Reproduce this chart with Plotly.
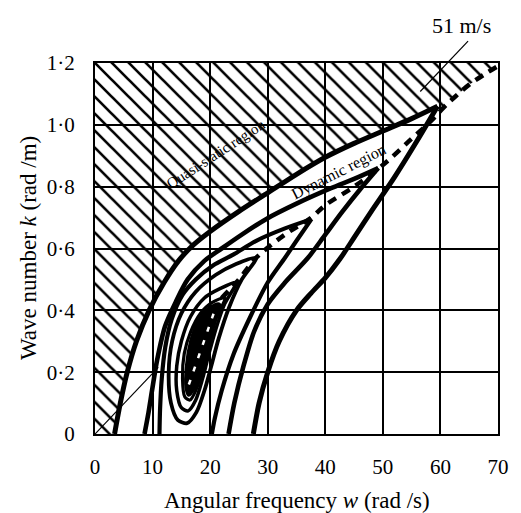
import plotly.graph_objects as go

# ---------------- data ----------------
x_ticks = [0, 10, 20, 30, 40, 50, 60, 70]
y_tickvals = [0, 0.2, 0.4, 0.6, 0.8, 1.0, 1.2]
y_ticktext = ["0", "0·2", "0·4", "0·6", "0·8", "1·0", "1·2"]

wave_speed = 51  # m/s, k = w / c

# outermost contour (open at k = 0)
c1_upper_w = [3.4, 4.4, 5.6, 7.2, 9.4, 12.0, 14.5, 17.0, 20.0, 25.0, 30.0, 35.0, 40.0, 45.0, 50.0, 55.0, 59.5]
c1_upper_k = [0.0, 0.1, 0.2, 0.3, 0.4, 0.49, 0.56, 0.61, 0.655, 0.72, 0.78, 0.84, 0.895, 0.94, 0.98, 1.02, 1.06]
c1_lower_w = [59.5, 56.0, 52.0, 48.0, 45.0, 42.5, 40.0, 37.5, 35.0, 32.0, 30.0, 28.5, 27.5]
c1_lower_k = [1.06, 0.95, 0.83, 0.72, 0.635, 0.565, 0.505, 0.455, 0.4, 0.3, 0.2, 0.1, 0.0]

# second contour
c2_upper_w = [8.6, 9.3, 9.9, 10.8, 12.2, 14.1, 16.1, 19.0, 22.0, 25.5, 29.7, 35.0, 41.0, 45.0, 49.2]
c2_upper_k = [0.0, 0.07, 0.14, 0.24, 0.35, 0.43, 0.5, 0.56, 0.6, 0.645, 0.695, 0.745, 0.795, 0.825, 0.86]
c2_lower_w = [49.2, 46.0, 43.0, 40.0, 37.0, 33.0, 30.0, 27.6, 25.8, 24.2, 23.2]
c2_lower_k = [0.86, 0.79, 0.72, 0.645, 0.57, 0.49, 0.42, 0.33, 0.22, 0.1, 0.0]

# third contour
c3_upper_w = [11.2, 11.3, 11.6, 12.2, 13.3, 15.2, 17.5, 20.5, 24.0, 28.0, 33.0, 37.6]
c3_upper_k = [0.0, 0.08, 0.18, 0.28, 0.37, 0.45, 0.5, 0.545, 0.58, 0.625, 0.665, 0.695]
c3_lower_w = [37.6, 35.0, 33.0, 30.0, 27.0, 24.0, 22.0, 20.8, 20.3]
c3_lower_k = [0.695, 0.625, 0.57, 0.49, 0.38, 0.255, 0.14, 0.05, 0.0]

# closed inner contours
c4_w = [28.0, 25.5, 23.3, 21.5, 20.2, 19.0, 17.6, 16.0, 14.4, 13.2, 12.8, 13.4, 15.0, 17.5, 21.0, 24.5, 28.0]
c4_k = [0.57, 0.5, 0.41, 0.31, 0.22, 0.14, 0.07, 0.035, 0.045, 0.1, 0.2, 0.3, 0.39, 0.46, 0.515, 0.55, 0.57]
c5_w = [24.5, 22.5, 21.0, 19.8, 18.7, 17.5, 16.2, 15.0, 14.2, 14.2, 15.0, 16.6, 19.0, 21.7, 24.5]
c5_k = [0.49, 0.42, 0.34, 0.26, 0.18, 0.11, 0.075, 0.085, 0.14, 0.22, 0.3, 0.38, 0.44, 0.47, 0.49]
c6_w = [22.5, 21.0, 19.8, 18.7, 17.6, 16.5, 15.6, 15.2, 15.5, 16.6, 18.3, 20.3, 22.5]
c6_k = [0.44, 0.37, 0.29, 0.21, 0.145, 0.11, 0.12, 0.18, 0.26, 0.33, 0.39, 0.425, 0.44]
core_w = [21.6, 20.4, 19.3, 18.3, 17.3, 16.3, 15.8, 15.9, 16.6, 17.9, 19.7, 21.6]
core_k = [0.42, 0.355, 0.28, 0.205, 0.15, 0.125, 0.15, 0.225, 0.3, 0.365, 0.405, 0.42]

# dashed ridge line
ridge_w = [22.0, 25.0, 28.0, 33.0, 37.6, 40.0, 45.0, 50.0, 55.0, 58.5, 60.5, 62.5, 65.0, 67.8, 70.0]
ridge_k = [0.44, 0.5, 0.57, 0.645, 0.7, 0.74, 0.8, 0.87, 0.955, 1.015, 1.055, 1.09, 1.13, 1.165, 1.19]
core_ridge_w = [16.3, 20.8]
core_ridge_k = [0.16, 0.4]

X_RANGE = [0, 70]
Y_RANGE = [0, 1.2]

# ---------------- figure ----------------
FONT = "Liberation Serif"
fig = go.Figure()

# hatched quasi-static region (above outer contour and ridge extension)
tail = [i for i, w in enumerate(ridge_w) if w > c1_upper_w[-1]]
hatch_w = [X_RANGE[0] - 1, c1_upper_w[0]] + c1_upper_w + [ridge_w[i] for i in tail] + [X_RANGE[1] + 1, X_RANGE[1] + 1, X_RANGE[0] - 1]
hatch_k = [Y_RANGE[0], c1_upper_k[0]] + c1_upper_k + [ridge_k[i] for i in tail] + [ridge_k[-1], Y_RANGE[1] + 0.1, Y_RANGE[1] + 0.1]
fig.add_trace(go.Scatter(
    x=hatch_w, y=hatch_k, mode="lines", fill="toself",
    fillcolor="black",
    fillpattern=dict(shape="\\", fgcolor="black", bgcolor="rgba(255,255,255,0)", fgopacity=1,
                     fillmode="replace", size=12, solidity=0.22),
    line=dict(width=0, color="rgba(0,0,0,0)"), hoverinfo="skip", showlegend=False))

# thin 51 m/s line near origin
w_end = 11.0
fig.add_trace(go.Scatter(x=[0, w_end], y=[0, w_end / wave_speed], mode="lines",
                         line=dict(color="black", width=1.2), showlegend=False, hoverinfo="skip"))

def curve(w, k, width=4.2):
    fig.add_trace(go.Scatter(x=w, y=k, mode="lines",
                             line=dict(color="black", width=width, shape="spline", smoothing=0.8),
                             showlegend=False, hoverinfo="skip"))

curve(c1_upper_w, c1_upper_k, 5)
curve(c1_lower_w, c1_lower_k, 5)
curve(c2_upper_w, c2_upper_k, 4.6)
curve(c2_lower_w, c2_lower_k, 4.6)
curve(c3_upper_w, c3_upper_k, 4.2)
curve(c3_lower_w, c3_lower_k, 4.2)
curve(c4_w, c4_k, 3.8)
curve(c5_w, c5_k, 3.5)
curve(c6_w, c6_k, 3.2)

# ridge dashed
fig.add_trace(go.Scatter(x=ridge_w, y=ridge_k, mode="lines",
                         line=dict(color="black", width=4.5, dash="9px,7px", shape="spline"),
                         showlegend=False, hoverinfo="skip"))

# black core
fig.add_trace(go.Scatter(x=core_w, y=core_k, mode="lines", fill="toself", fillcolor="black",
                         line=dict(color="black", width=3, shape="spline"),
                         showlegend=False, hoverinfo="skip"))
fig.add_trace(go.Scatter(x=core_ridge_w, y=core_ridge_k, mode="lines",
                         line=dict(color="white", width=2.5, dash="5px,9px"),
                         showlegend=False, hoverinfo="skip"))

# 51 m/s leader line (outside the plot area, paper coords)
lead_w0, lead_w1 = 56.5, 64.8
fig.add_shape(type="line", xref="paper", yref="paper",
              x0=lead_w0 / X_RANGE[1], y0=(lead_w0 / wave_speed) / Y_RANGE[1],
              x1=lead_w1 / X_RANGE[1], y1=(lead_w1 / wave_speed) / Y_RANGE[1],
              line=dict(color="black", width=1.2))

fig.add_annotation(text="51 m/s", xref="paper", yref="paper", x=0.91, y=1.102,
                   xanchor="center", yanchor="middle",
                   showarrow=False, font=dict(family=FONT, size=22, color="black"))
fig.add_annotation(text="Quasi-static region", x=21, y=0.905, textangle=-33, showarrow=False,
                   font=dict(family=FONT, size=15, color="black"))
fig.add_annotation(text="Dynamic region", x=42.3, y=0.848, textangle=-27, showarrow=False,
                   font=dict(family=FONT, size=16, color="black"))

# axis titles
fig.add_annotation(text="Angular frequency <i>w</i> (rad /s)", xref="paper", yref="paper",
                   x=0.5, y=-0.178, showarrow=False, xanchor="center", yanchor="middle",
                   font=dict(family=FONT, size=23, color="black"))
fig.add_annotation(text="Wave number <i>k</i> (rad /m)", xref="paper", yref="paper",
                   x=-0.165, y=0.5, showarrow=False, textangle=-90, xanchor="center", yanchor="middle",
                   font=dict(family=FONT, size=23, color="black"))

axis_common = dict(showgrid=True, gridcolor="black", gridwidth=2, showline=True, linecolor="black",
                   linewidth=2, mirror=True, zeroline=False, ticks="outside",
                   tickcolor="rgba(0,0,0,0)", tickfont=dict(family=FONT, size=21, color="black"))
fig.update_xaxes(range=X_RANGE, tickvals=x_ticks, ticklen=13, **axis_common)
fig.update_yaxes(range=Y_RANGE, tickvals=y_tickvals, ticktext=y_ticktext, ticklen=14, **axis_common)

fig.update_layout(width=521, height=513, margin=dict(l=95, r=13, t=63, b=79),
                  plot_bgcolor="white", paper_bgcolor="white", showlegend=False)

fig.write_html("out.html")
